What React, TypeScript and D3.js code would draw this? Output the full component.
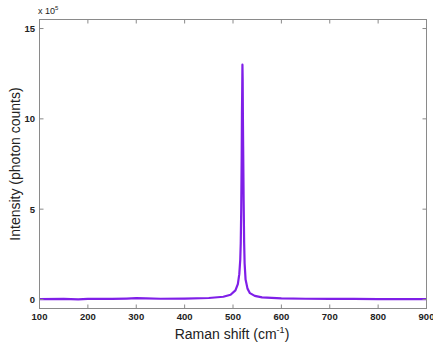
import React from "react";
import * as d3 from "d3";

const ramanShift = [100, 150, 180, 200, 250, 280, 300, 320, 350, 400, 450, 480, 495, 505, 510, 513, 515, 516, 517, 518, 518.5, 519, 519.5, 520, 520.5, 521, 522, 523, 524, 526, 530, 535, 545, 560, 600, 650, 700, 750, 800, 850, 900];
const intensity = [0.02, 0.03, 0.01, 0.03, 0.03, 0.05, 0.07, 0.06, 0.04, 0.05, 0.08, 0.15, 0.26, 0.5, 0.85, 1.4, 2.2, 3.1, 5.0, 8.0, 10.3, 11.5, 13.0, 12.2, 10.0, 8.5, 5.5, 3.2, 2.0, 1.1, 0.6, 0.35, 0.2, 0.12, 0.06, 0.04, 0.03, 0.03, 0.02, 0.02, 0.02];
const xTicks = [100, 200, 300, 400, 500, 600, 700, 800, 900];
const yTicks = [0, 5, 10, 15];

export default function App() {
  const W = 433, H = 345;
  const left = 39.5, right = 426.5, top = 19.5, bottom = 308.5;
  const x = d3.scaleLinear().domain([100, 900]).range([left, right]);
  const y = d3.scaleLinear().domain([-0.5, 15.5]).range([bottom, top]);
  const line = d3.line<number>().x((_, i) => x(ramanShift[i])).y((d) => y(d));
  const axisColor = "#8a8a8a";
  const font = "Arial, 'Liberation Sans', sans-serif";
  return (
    <svg width={W} height={H} style={{ position: "absolute", left: 0, top: 0, background: "#fff" }}>
      <rect x={left} y={top} width={right - left} height={bottom - top} fill="#fff" />
      <path d={line(intensity) || ""} fill="none" stroke="#7f1fe8" strokeWidth={2.2} strokeLinejoin="round" />
      <rect x={left} y={top} width={right - left} height={bottom - top} fill="none" stroke={axisColor} strokeWidth={1} />
      {xTicks.map((t) => (
        <g key={"x" + t}>
          <line x1={x(t)} x2={x(t)} y1={bottom} y2={bottom - 4} stroke={axisColor} />
          <line x1={x(t)} x2={x(t)} y1={top} y2={top + 4} stroke={axisColor} />
          <text x={x(t)} y={319.5} textAnchor="middle" fontSize={9.5} fontWeight="bold" fill="#222" fontFamily={font}>{t}</text>
        </g>
      ))}
      {yTicks.map((t) => (
        <g key={"y" + t}>
          <line x1={left} x2={left + 4} y1={y(t)} y2={y(t)} stroke={axisColor} />
          <line x1={right} x2={right - 4} y1={y(t)} y2={y(t)} stroke={axisColor} />
          <text x={35} y={y(t) + 3.5} textAnchor="end" fontSize={9.5} fontWeight="bold" fill="#222" fontFamily={font}>{t}</text>
        </g>
      ))}
      <text x={38} y={14} fontSize={9} fill="#222" fontFamily={font}>
        x 10<tspan dy={-4} fontSize={6}>5</tspan>
      </text>
      <text x={232} y={339} textAnchor="middle" fontSize={14} fill="#222" fontFamily={font}>
        Raman shift (cm<tspan dy={-6} fontSize={9}>-1</tspan><tspan dy={6}>)</tspan>
      </text>
      <text transform={`translate(20,${(top + bottom) / 2}) rotate(-90)`} textAnchor="middle" fontSize={14} fill="#222" fontFamily={font}>
        Intensity (photon counts)
      </text>
    </svg>
  );
}
